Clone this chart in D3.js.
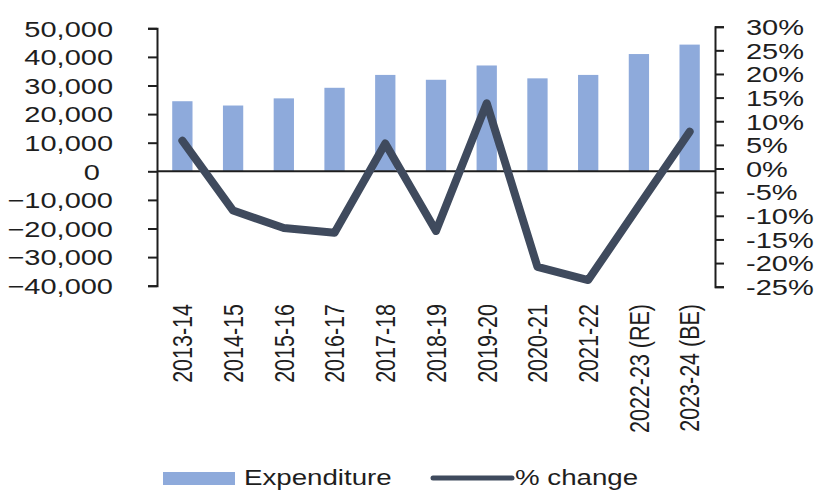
<!DOCTYPE html>
<html>
<head>
<meta charset="utf-8">
<script src="https://cdn.jsdelivr.net/npm/d3@7"></script>
<style>
  html, body { margin: 0; padding: 0; background: #fff; }
  svg { display: block; }
  text { font-family: "Liberation Sans", Arial, sans-serif; fill: #1e1e1e; }
</style>
</head>
<body>
<svg id="chart" width="818" height="491"></svg>
<script>
// Annual expenditure with year-on-year % change
const years = ["2013-14", "2014-15", "2015-16", "2016-17", "2017-18", "2018-19",
               "2019-20", "2020-21", "2021-22", "2022-23 (RE)", "2023-24 (BE)"];
const expenditure = [24500, 23000, 25500, 29200, 33700, 32000, 37000, 32500, 33700, 41000, 44300];
const pctChange = [5.9, -8.9, -12.6, -13.6, 5.3, -13.2, 13.8, -20.8, -23.6, -7.9, 7.8];
const leftTicks = [-40000, -30000, -20000, -10000, 0, 10000, 20000, 30000, 40000, 50000];
const rightTicks = [-25, -20, -15, -10, -5, 0, 5, 10, 15, 20, 25, 30];

const FONT = 22.3;   // tick / legend font size
const SX = 1.3;      // horizontal stretch of the lettering
const barColor = "#8eaadb";
const lineColor = "#3f4a5d";
const axisColor = "#1e1e1e";

const svg = d3.select("#chart");
svg.append("rect").attr("width", 818).attr("height", 491).attr("fill", "#fff");

const plot = { left: 157, right: 715 };

const x = d3.scaleBand().domain(years).range([plot.left, plot.right])
  .paddingInner(0.6).paddingOuter(0.3);
const yL = d3.scaleLinear().domain([-40000, 50000]).range([285.7, 28.3]);
const yR = d3.scaleLinear().domain([-25, 30]).range([286.7, 26.7]);

// bars
svg.append("g").selectAll("rect").data(years).join("rect")
  .attr("x", d => x(d))
  .attr("width", x.bandwidth())
  .attr("y", (d, i) => yL(expenditure[i]))
  .attr("height", (d, i) => yL(0) - yL(expenditure[i]))
  .attr("fill", barColor);

// zero line
svg.append("line")
  .attr("x1", plot.left).attr("x2", plot.right)
  .attr("y1", yL(0)).attr("y2", yL(0))
  .attr("stroke", axisColor).attr("stroke-width", 2);

// left axis
const gL = svg.append("g").attr("transform", `translate(${plot.left},0)`)
  .call(d3.axisLeft(yL).tickValues(leftTicks).tickSize(9).tickSizeOuter(9)
    .tickFormat(d3.format(",")));
gL.select(".domain").attr("stroke", axisColor).attr("stroke-width", 2);
gL.selectAll(".tick line").attr("stroke", axisColor).attr("stroke-width", 2);
gL.selectAll(".tick text")
  .attr("x", 0).attr("dy", "0.35em")
  .attr("text-anchor", "end")
  .style("font-size", FONT + "px")
  .attr("transform", d => `translate(${d === 0 ? -57 : -44},0) scale(${SX},1)`);

// right axis
const gR = svg.append("g").attr("transform", `translate(${plot.right},0)`)
  .call(d3.axisRight(yR).tickValues(rightTicks).tickSize(9).tickSizeOuter(9)
    .tickFormat(d => d + "%"));
gR.select(".domain").attr("stroke", axisColor).attr("stroke-width", 2);
gR.selectAll(".tick line").attr("stroke", axisColor).attr("stroke-width", 2);
gR.selectAll(".tick text")
  .attr("x", 0).attr("dy", "0.35em")
  .attr("text-anchor", "start")
  .style("font-size", FONT + "px")
  .attr("transform", `translate(31,0) scale(${SX},1)`);

// category labels, rotated
svg.append("g").selectAll("text").data(years).join("text")
  .attr("text-anchor", "end")
  .attr("dy", "0.35em")
  .style("font-size", (FONT - 0.8) + "px")
  .attr("transform", d => `translate(${x(d) + x.bandwidth() / 2},304) scale(${SX},1) rotate(-90)`)
  .text(d => d);

// % change line
const line = d3.line()
  .x((d, i) => x(years[i]) + x.bandwidth() / 2)
  .y(d => yR(d));
svg.append("path")
  .datum(pctChange)
  .attr("d", line)
  .attr("fill", "none")
  .attr("stroke", lineColor)
  .attr("stroke-width", 8)
  .attr("stroke-linejoin", "round")
  .attr("stroke-linecap", "round");

// legend
const lg = svg.append("g");
lg.append("rect").attr("x", 163).attr("y", 472).attr("width", 72).attr("height", 13)
  .attr("fill", barColor);
lg.append("text").attr("dy", "0.35em").style("font-size", (FONT - 1) + "px")
  .attr("transform", `translate(244,478) scale(${SX},1)`).text("Expenditure");
lg.append("line").attr("x1", 433).attr("x2", 512).attr("y1", 478).attr("y2", 478)
  .attr("stroke", lineColor).attr("stroke-width", 5).attr("stroke-linecap", "round");
lg.append("text").attr("dy", "0.35em").style("font-size", (FONT - 1) + "px")
  .attr("transform", `translate(515,478) scale(${SX},1)`).text("% change");
</script>
</body>
</html>
